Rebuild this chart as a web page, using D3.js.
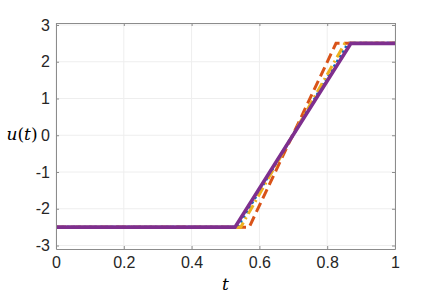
<!DOCTYPE html>
<html>
<head>
<meta charset="utf-8">
<script src="https://cdn.jsdelivr.net/npm/d3@7"></script>
<style>
  body { margin: 0; background: #fff; }
  .axis text { font-family: "Liberation Sans", Arial, sans-serif; font-size: 16px; fill: #262626; }
  .axis path, .axis line { stroke: #8c8c8c; }
</style>
</head>
<body>
<svg id="chart" width="436" height="298"></svg>
<script>
var xTicks = [0, 0.2, 0.4, 0.6, 0.8, 1];
var xTickLabels = ["0", "0.2", "0.4", "0.6", "0.8", "1"];
var yTicks = [-3, -2, -1, 0, 1, 2, 3];
var yTickLabels = ["-3", "-2", "-1", "0", "1", "2", "3"];

// each series: t, u breakpoints
var blueT = [0, 0.535, 0.862, 1];
var blueU = [-2.5, -2.5, 2.5, 2.5];
var orangeT = [0, 0.570, 0.826, 1];
var orangeU = [-2.5, -2.5, 2.5, 2.5];
var yellowT = [0, 0.545, 0.852, 1];
var yellowU = [-2.5, -2.5, 2.5, 2.5];
var purpleT = [0, 0.528, 0.870, 1];
var purpleU = [-2.5, -2.5, 2.5, 2.5];

drawChart();

function drawChart() {
  var series = [
    { t: blueT, u: blueU, color: "#0072BD", dash: "2.5,3", width: 3 },
    { t: orangeT, u: orangeU, color: "#D95319", dash: "10,5", width: 3 },
    { t: yellowT, u: yellowU, color: "#EDB120", dash: "10,4,2,4", width: 3 },
    { t: purpleT, u: purpleU, color: "#7E2F8E", dash: null, width: 3.6 }
  ];

  var svg = d3.select("#chart"),
    M = { left: 56, right: 395, top: 23, bottom: 249 };

  var x = d3.scaleLinear().domain([0, 1]).range([M.left, M.right]);
  var y = d3.scaleLinear().domain([-3.095, 3.054]).range([M.bottom, M.top]);

  // grid
  var grid = svg.append("g");
  grid.selectAll("line.gx").data(xTicks).enter().append("line")
    .attr("x1", function(d) { return x(d); }).attr("x2", function(d) { return x(d); })
    .attr("y1", M.top).attr("y2", M.bottom)
    .attr("stroke", "#eeeeee").attr("stroke-width", 1);
  grid.selectAll("line.gy").data(yTicks).enter().append("line")
    .attr("y1", function(d) { return y(d); }).attr("y2", function(d) { return y(d); })
    .attr("x1", M.left).attr("x2", M.right)
    .attr("stroke", "#eeeeee").attr("stroke-width", 1);

  // lines
  svg.append("clipPath").attr("id", "clip").append("rect")
    .attr("x", M.left).attr("y", M.top).attr("width", M.right - M.left).attr("height", M.bottom - M.top);

  series.forEach(function(s) {
    var pts = s.t.map(function(t, i) { return [t, s.u[i]]; });
    svg.append("path")
      .datum(pts)
      .attr("clip-path", "url(#clip)")
      .attr("fill", "none")
      .attr("stroke", s.color)
      .attr("stroke-width", s.width)
      .attr("stroke-dasharray", s.dash)
      .attr("d", d3.line().x(function(d) { return x(d[0]); }).y(function(d) { return y(d[1]); }));
  });

  // axes
  var xAxis = d3.axisBottom(x).tickValues(xTicks)
    .tickFormat(function(d, i) { return xTickLabels[i]; }).tickSizeInner(-3).tickSizeOuter(0).tickPadding(8);
  var yAxis = d3.axisLeft(y).tickValues(yTicks)
    .tickFormat(function(d, i) { return yTickLabels[i]; }).tickSizeInner(-3).tickSizeOuter(0).tickPadding(6);

  svg.append("g").attr("class", "axis")
    .attr("transform", "translate(0," + M.bottom + ")")
    .call(xAxis);
  svg.append("g").attr("class", "axis")
    .attr("transform", "translate(" + M.left + ",0)")
    .call(yAxis);
  svg.append("g").attr("class", "axis")
    .attr("transform", "translate(0," + M.top + ")")
    .call(d3.axisTop(x).tickValues(xTicks).tickFormat("").tickSizeInner(-3).tickSizeOuter(0));
  svg.append("g").attr("class", "axis")
    .attr("transform", "translate(" + M.right + ",0)")
    .call(d3.axisRight(y).tickValues(yTicks).tickFormat("").tickSizeInner(-3).tickSizeOuter(0));

  svg.selectAll(".axis path").attr("stroke", "#8c8c8c").attr("stroke-width", 1);

  // labels
  svg.append("text")
    .attr("x", (M.left + M.right) / 2).attr("y", 290)
    .attr("text-anchor", "middle")
    .style("font-family", "'DejaVu Serif', serif")
    .style("font-style", "italic").style("font-size", "17px")
    .text("t");

  var ul = svg.append("text")
    .attr("x", 22).attr("y", 140)
    .attr("text-anchor", "middle")
    .style("font-family", "'DejaVu Serif', serif")
    .style("font-size", "17px");
  ul.append("tspan").style("font-style", "italic").text("u");
  ul.append("tspan").text("(");
  ul.append("tspan").style("font-style", "italic").text("t");
  ul.append("tspan").text(")");
}
</script>
</body>
</html>
